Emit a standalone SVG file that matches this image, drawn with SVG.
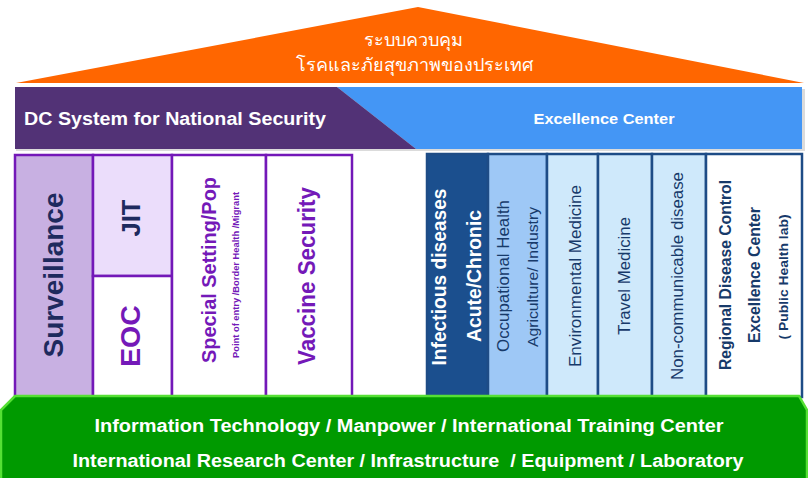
<svg xmlns="http://www.w3.org/2000/svg" width="808" height="478" viewBox="0 0 808 478">
<style>
text{font-family:"Liberation Sans",Arial,sans-serif;white-space:pre}
.b{font-weight:bold}
.w{fill:#ffffff}
.pl{stroke:#7318B8;stroke-width:2.5}
.bl{stroke:#1E4C86;stroke-width:2.5}
.navy{fill:#1E2A5E}
.pur{fill:#7419B8}
.dn{fill:#173A6A}
</style>
<rect width="808" height="478" fill="#ffffff"/>
<g id="roof">
<polygon points="418,7 16,83 804,83" fill="#FF6600"/>
<text x="413" y="46" class="w" font-size="18" text-anchor="middle" font-family="'Liberation Sans','Noto Sans Thai','Noto Sans',sans-serif">ระบบควบคุม</text>
<text x="414" y="71" class="w" font-size="18" text-anchor="middle" font-family="'Liberation Sans','Noto Sans Thai','Noto Sans',sans-serif">โรคและภัยสุขภาพของประเทศ</text>
</g>
<g id="banner">
<rect x="16" y="89" width="789" height="62" fill="#999" opacity="0.35"/>
<polygon points="337,87 802,87 802,149 416,149" fill="#4496F5"/>
<polygon points="15,87 337,87 416,149 15,149" fill="#523276"/>
<text x="24" y="125" class="w b" font-size="18" textLength="302" lengthAdjust="spacingAndGlyphs">DC System for National Security</text>
<text x="604" y="124" class="w b" font-size="14" text-anchor="middle" textLength="141" lengthAdjust="spacingAndGlyphs">Excellence Center</text>
</g>
<g id="surveillance">
<rect x="15" y="155" width="78" height="242" fill="#C8B0E2" class="pl"/>
<text transform="translate(63,275) rotate(-90)" class="b navy" font-size="28" text-anchor="middle" textLength="165" lengthAdjust="spacingAndGlyphs">Surveillance</text>
</g>
<g id="jit">
<rect x="93" y="155" width="79" height="121" fill="#EBDDFB" class="pl"/>
<text transform="translate(140,218) rotate(-90)" class="b navy" font-size="26" text-anchor="middle" textLength="37" lengthAdjust="spacingAndGlyphs">JIT</text>
</g>
<g id="eoc">
<rect x="93" y="276" width="79" height="121" fill="#ffffff" class="pl"/>
<text transform="translate(140,336) rotate(-90)" class="b pur" font-size="28" text-anchor="middle" textLength="62" lengthAdjust="spacingAndGlyphs">EOC</text>
</g>
<g id="special">
<rect x="172" y="155" width="94" height="242" fill="#ffffff" class="pl"/>
<text transform="translate(216,270) rotate(-90)" class="b pur" font-size="20" text-anchor="middle" textLength="186" lengthAdjust="spacingAndGlyphs">Special Setting/Pop</text>
<text transform="translate(239,275) rotate(-90)" class="b pur" font-size="8.5" text-anchor="middle" textLength="166" lengthAdjust="spacingAndGlyphs">Point of entry /Border Health /Migrant</text>
</g>
<g id="vaccine">
<rect x="266" y="155" width="86" height="242" fill="#ffffff" class="pl"/>
<text transform="translate(315,276) rotate(-90)" class="b pur" font-size="23" text-anchor="middle" textLength="178" lengthAdjust="spacingAndGlyphs">Vaccine Security</text>
</g>
<g id="infectious">
<rect x="427" y="154" width="61" height="243" fill="#1B4F8E" class="bl"/>
<text transform="translate(446,277) rotate(-90)" class="b w" font-size="20" text-anchor="middle" textLength="177" lengthAdjust="spacingAndGlyphs">Infectious diseases</text>
<text transform="translate(481,276) rotate(-90)" class="b w" font-size="20" text-anchor="middle" textLength="132" lengthAdjust="spacingAndGlyphs">Acute/Chronic</text>
</g>
<g id="occupational">
<rect x="488" y="154" width="59" height="243" fill="#9EC8F6" class="bl"/>
<text transform="translate(509,276) rotate(-90)" class="dn" font-size="16" text-anchor="middle" textLength="152" lengthAdjust="spacingAndGlyphs">Occupational Health</text>
<text transform="translate(538,277) rotate(-90)" class="dn" font-size="15" text-anchor="middle" textLength="140" lengthAdjust="spacingAndGlyphs">Agriculture/ Industry</text>
</g>
<g id="environmental">
<rect x="547" y="154" width="51" height="243" fill="#CFE9FB" class="bl"/>
<text transform="translate(581,276) rotate(-90)" class="dn" font-size="16" text-anchor="middle" textLength="182" lengthAdjust="spacingAndGlyphs">Environmental Medicine</text>
</g>
<g id="travel">
<rect x="598" y="154" width="54" height="243" fill="#CFE9FB" class="bl"/>
<text transform="translate(630,276) rotate(-90)" class="dn" font-size="16" text-anchor="middle" textLength="118" lengthAdjust="spacingAndGlyphs">Travel Medicine</text>
</g>
<g id="noncommunicable">
<rect x="652" y="154" width="54" height="243" fill="#CFE9FB" class="bl"/>
<text transform="translate(683,276) rotate(-90)" class="dn" font-size="16" text-anchor="middle" textLength="208" lengthAdjust="spacingAndGlyphs">Non-communicable disease</text>
</g>
<g id="regional">
<rect x="706" y="154" width="96" height="243" fill="#ffffff" class="bl"/>
<text transform="translate(731,275) rotate(-90)" class="b dn" font-size="16" text-anchor="middle" textLength="190" lengthAdjust="spacingAndGlyphs">Regional Disease Control</text>
<text transform="translate(760,275) rotate(-90)" class="b dn" font-size="16" text-anchor="middle" textLength="136" lengthAdjust="spacingAndGlyphs">Excellence Center</text>
<text transform="translate(788,277) rotate(-90)" class="b dn" font-size="13" text-anchor="middle" textLength="125" lengthAdjust="spacingAndGlyphs">( Public Health lab)</text>
</g>
<g id="foundation">
<polygon points="15,396 799,396 807,410 807,480 1,480 1,410" fill="#009A00" stroke="#55E034" stroke-width="2.5"/>
<text x="409" y="432" class="b w" font-size="18" text-anchor="middle" textLength="629" lengthAdjust="spacingAndGlyphs">Information Technology / Manpower / International Training Center</text>
<text x="408" y="467" class="b w" font-size="18" text-anchor="middle" textLength="671" lengthAdjust="spacingAndGlyphs">International Research Center / Infrastructure  / Equipment / Laboratory</text>
</g>
</svg>
